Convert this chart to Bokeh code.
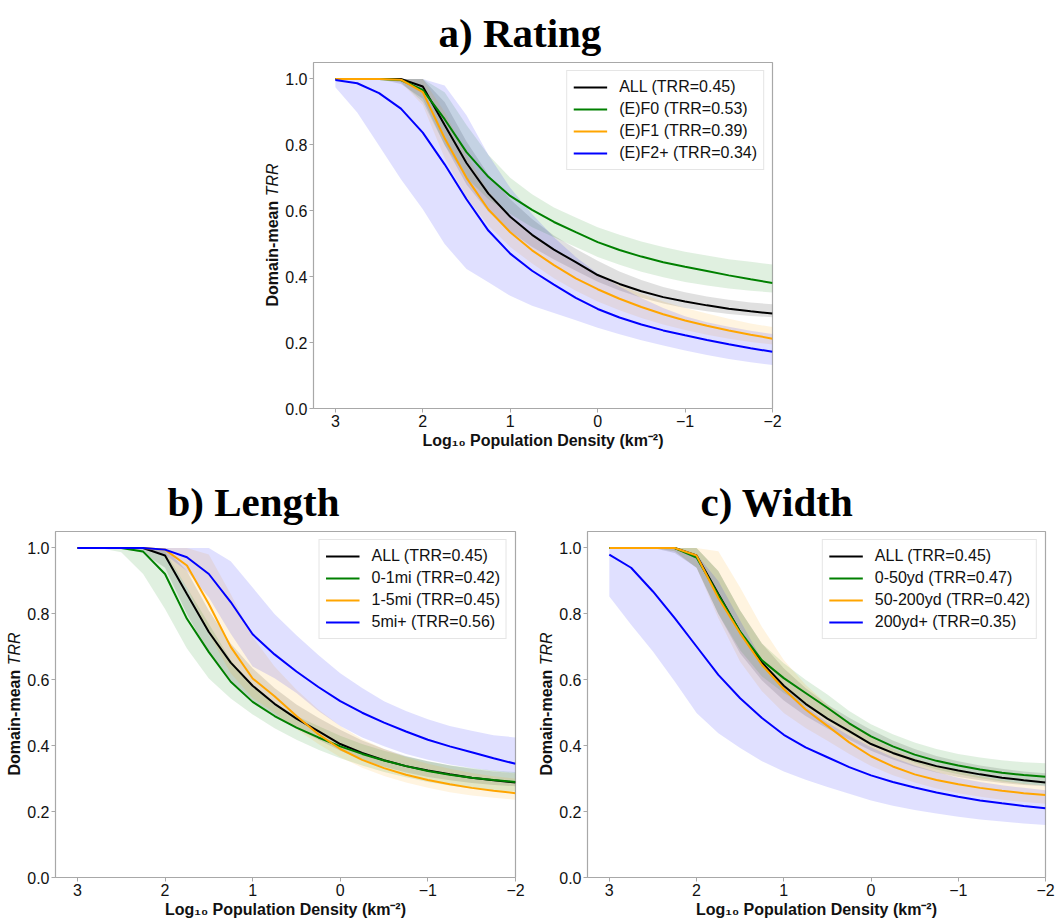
from bokeh.plotting import figure
from bokeh.models import (Range1d, FixedTicker, Legend, LegendItem, Spacer, Div,
                          PrintfTickFormatter)
from bokeh.layouts import column, row
from bokeh.embed import file_html
from bokeh.resources import INLINE

# ---------------- data ----------------
log_density = [3.0, 2.75, 2.5, 2.25, 2.0, 1.75, 1.5, 1.25, 1.0, 0.75, 0.5, 0.25,
               0.0, -0.25, -0.5, -0.75, -1.0, -1.25, -1.5, -1.75, -2.0]
x_ticks = [3, 2, 1, 0, -1, -2]
y_ticks = [0.0, 0.2, 0.4, 0.6, 0.8, 1.0]

all_mean = [1.0, 1.0, 1.0, 1.0, 0.977, 0.86, 0.745, 0.652, 0.582, 0.527, 0.482, 0.444, 0.405, 0.378, 0.356, 0.338, 0.325, 0.313, 0.303, 0.295, 0.288]
all_lo = [1.0, 1.0, 1.0, 0.985, 0.94, 0.80, 0.68, 0.598, 0.537, 0.49, 0.452, 0.418, 0.385, 0.358, 0.336, 0.319, 0.305, 0.295, 0.287, 0.281, 0.277]
all_hi = [1.0, 1.0, 1.0, 1.0, 1.0, 0.93, 0.81, 0.71, 0.635, 0.575, 0.525, 0.485, 0.448, 0.416, 0.39, 0.369, 0.353, 0.34, 0.33, 0.322, 0.316]

# a) Rating
f0_mean = [1.0, 1.0, 1.0, 0.997, 0.967, 0.878, 0.778, 0.703, 0.645, 0.603, 0.566, 0.535, 0.505, 0.481, 0.461, 0.444, 0.43, 0.417, 0.404, 0.392, 0.381]
f0_lo = [1.0, 1.0, 1.0, 0.99, 0.93, 0.80, 0.70, 0.635, 0.59, 0.55, 0.52, 0.49, 0.46, 0.436, 0.415, 0.398, 0.384, 0.373, 0.364, 0.357, 0.352]
f0_hi = [1.0, 1.0, 1.0, 1.0, 1.0, 0.96, 0.86, 0.77, 0.70, 0.65, 0.61, 0.58, 0.55, 0.527, 0.507, 0.49, 0.476, 0.464, 0.453, 0.445, 0.437]
f1_mean = [1.0, 1.0, 1.0, 0.998, 0.96, 0.82, 0.70, 0.604, 0.535, 0.48, 0.435, 0.395, 0.362, 0.333, 0.308, 0.286, 0.267, 0.251, 0.237, 0.224, 0.212]
f1_lo = [1.0, 1.0, 1.0, 0.99, 0.92, 0.76, 0.64, 0.555, 0.49, 0.44, 0.395, 0.357, 0.325, 0.298, 0.275, 0.255, 0.238, 0.224, 0.212, 0.202, 0.194]
f1_hi = [1.0, 1.0, 1.0, 1.0, 1.0, 0.90, 0.77, 0.66, 0.585, 0.525, 0.478, 0.44, 0.405, 0.374, 0.348, 0.325, 0.305, 0.288, 0.272, 0.258, 0.247]
f2_mean = [0.997, 0.987, 0.957, 0.91, 0.837, 0.741, 0.635, 0.54, 0.47, 0.418, 0.376, 0.336, 0.302, 0.276, 0.255, 0.237, 0.222, 0.208, 0.195, 0.183, 0.172]
f2_lo = [0.975, 0.898, 0.797, 0.696, 0.605, 0.499, 0.423, 0.383, 0.342, 0.312, 0.29, 0.268, 0.245, 0.225, 0.207, 0.191, 0.176, 0.162, 0.15, 0.14, 0.132]
f2_hi = [1.0, 1.0, 1.0, 1.0, 1.0, 0.98, 0.89, 0.77, 0.67, 0.59, 0.52, 0.46, 0.41, 0.37, 0.335, 0.305, 0.28, 0.262, 0.248, 0.236, 0.226]

# b) Length
m01_mean = [1.0, 1.0, 1.0, 0.989, 0.921, 0.785, 0.684, 0.594, 0.533, 0.49, 0.455, 0.425, 0.398, 0.375, 0.355, 0.338, 0.323, 0.312, 0.303, 0.296, 0.29]
m01_lo = [1.0, 1.0, 0.987, 0.921, 0.815, 0.695, 0.604, 0.543, 0.495, 0.453, 0.418, 0.388, 0.362, 0.34, 0.32, 0.304, 0.29, 0.279, 0.27, 0.264, 0.26]
m01_hi = [1.0, 1.0, 1.0, 1.0, 0.99, 0.88, 0.77, 0.66, 0.58, 0.53, 0.49, 0.46, 0.43, 0.405, 0.385, 0.367, 0.353, 0.341, 0.332, 0.325, 0.32]
m15_mean = [1.0, 1.0, 1.0, 1.0, 0.995, 0.947, 0.83, 0.70, 0.604, 0.55, 0.49, 0.435, 0.39, 0.357, 0.332, 0.312, 0.296, 0.283, 0.272, 0.263, 0.256]
m15_lo = [1.0, 1.0, 1.0, 1.0, 0.98, 0.88, 0.74, 0.62, 0.545, 0.5, 0.45, 0.405, 0.365, 0.333, 0.308, 0.288, 0.272, 0.259, 0.249, 0.242, 0.236]
m15_hi = [1.0, 1.0, 1.0, 1.0, 1.0, 1.0, 0.98, 0.86, 0.73, 0.64, 0.57, 0.51, 0.46, 0.42, 0.39, 0.365, 0.345, 0.33, 0.317, 0.307, 0.3]
m5_mean = [1.0, 1.0, 1.0, 1.0, 0.995, 0.972, 0.921, 0.836, 0.738, 0.677, 0.625, 0.578, 0.535, 0.5, 0.47, 0.443, 0.418, 0.398, 0.38, 0.362, 0.345]
m5_lo = [1.0, 1.0, 1.0, 0.995, 0.98, 0.93, 0.85, 0.74, 0.64, 0.605, 0.56, 0.505, 0.46, 0.425, 0.398, 0.375, 0.357, 0.343, 0.332, 0.323, 0.316]
m5_hi = [1.0, 1.0, 1.0, 1.0, 1.0, 1.0, 1.0, 0.96, 0.88, 0.80, 0.735, 0.675, 0.62, 0.575, 0.535, 0.505, 0.48, 0.46, 0.445, 0.432, 0.425]

# c) Width
w50_mean = [1.0, 1.0, 1.0, 1.0, 0.971, 0.857, 0.746, 0.659, 0.605, 0.56, 0.515, 0.468, 0.428, 0.398, 0.373, 0.354, 0.34, 0.328, 0.318, 0.311, 0.306]
w50_lo = [1.0, 1.0, 1.0, 0.99, 0.94, 0.80, 0.69, 0.61, 0.56, 0.52, 0.478, 0.438, 0.403, 0.373, 0.348, 0.328, 0.313, 0.301, 0.291, 0.284, 0.279]
w50_hi = [1.0, 1.0, 1.0, 1.0, 1.0, 0.93, 0.81, 0.71, 0.65, 0.60, 0.555, 0.505, 0.465, 0.435, 0.41, 0.39, 0.375, 0.364, 0.356, 0.35, 0.347]
w200_mean = [1.0, 1.0, 1.0, 1.0, 0.977, 0.848, 0.741, 0.645, 0.572, 0.51, 0.46, 0.41, 0.368, 0.337, 0.313, 0.296, 0.283, 0.272, 0.263, 0.256, 0.25]
w200_lo = [1.0, 1.0, 1.0, 0.99, 0.94, 0.787, 0.655, 0.565, 0.499, 0.454, 0.415, 0.375, 0.338, 0.31, 0.288, 0.27, 0.256, 0.245, 0.236, 0.229, 0.224]
w200_hi = [1.0, 1.0, 1.0, 1.0, 1.0, 0.99, 0.88, 0.76, 0.66, 0.585, 0.525, 0.47, 0.425, 0.39, 0.362, 0.34, 0.322, 0.307, 0.295, 0.285, 0.278]
w200p_mean = [0.98, 0.94, 0.868, 0.787, 0.701, 0.615, 0.544, 0.484, 0.433, 0.395, 0.365, 0.335, 0.31, 0.29, 0.273, 0.258, 0.245, 0.234, 0.225, 0.217, 0.21]
w200p_lo = [0.853, 0.767, 0.686, 0.595, 0.499, 0.438, 0.393, 0.353, 0.322, 0.297, 0.275, 0.254, 0.234, 0.218, 0.205, 0.194, 0.184, 0.176, 0.17, 0.164, 0.159]
w200p_hi = [1.0, 1.0, 1.0, 1.0, 0.98, 0.9, 0.78, 0.66, 0.58, 0.52, 0.47, 0.43, 0.395, 0.365, 0.34, 0.32, 0.303, 0.29, 0.28, 0.272, 0.265]

rating_labels = ["ALL (TRR=0.45)", "(E)F0 (TRR=0.53)", "(E)F1 (TRR=0.39)", "(E)F2+ (TRR=0.34)"]
length_labels = ["ALL (TRR=0.45)", "0-1mi (TRR=0.42)", "1-5mi (TRR=0.45)", "5mi+ (TRR=0.56)"]
width_labels = ["ALL (TRR=0.45)", "0-50yd (TRR=0.47)", "50-200yd (TRR=0.42)", "200yd+ (TRR=0.35)"]

colors = ["black", "green", "orange", "blue"]

SANS = "Liberation Sans"
FRAME_H = 346
X0, X1, Y0, Y1 = 3.25, -2.0, 0.0, 1.05
LABEL_W = 24


def ylabel_div(top, total_h):
    cy = top + FRAME_H / 2
    html = ('<div style="position:absolute; left:15px; top:%dpx; '
            'transform:translate(-50%%,-50%%) rotate(-90deg); white-space:nowrap; '
            "font-family:'Liberation Sans', Arial, sans-serif; font-size:16px; "
            'line-height:18px; color:#111111;">'
            '<b>Domain-mean</b> <i>TRR</i></div>') % cy
    return Div(text=html, width=LABEL_W, height=total_h, margin=0,
               styles={"position": "relative", "overflow": "visible"})


def make_panel(title, title_offset, series, labels, frame_w, left, right, top, bottom):
    p = figure(output_backend="svg", toolbar_location=None,
               frame_width=frame_w, frame_height=FRAME_H,
               min_border_left=left, min_border_right=right,
               min_border_top=top, min_border_bottom=bottom,
               x_range=Range1d(X0, X1), y_range=Range1d(Y0, Y1),
               title=title)
    p.title.text_font = "Liberation Serif"
    p.title.text_font_style = "bold"
    p.title.text_font_size = "41px"
    p.title.text_color = "black"
    p.title.align = "left"
    p.title.offset = title_offset
    p.title.standoff = 13

    p.grid.visible = False
    p.outline_line_color = "#a8a8a8"
    p.outline_line_width = 1.2
    p.background_fill_color = "white"
    p.border_fill_color = "white"

    for ax in (p.xaxis[0], p.yaxis[0]):
        ax.axis_line_color = None
        ax.major_tick_line_color = "#a8a8a8"
        ax.major_tick_out = 4
        ax.major_tick_in = 0
        ax.minor_tick_line_color = None
        ax.major_label_text_font = SANS
        ax.major_label_text_font_size = "16px"
        ax.major_label_text_color = "#111111"
        ax.major_label_standoff = 2

    p.xaxis.ticker = FixedTicker(ticks=x_ticks)
    p.xaxis.major_label_overrides = {-1: "\u22121", -2: "\u22122"}
    p.xaxis.axis_label = "Log\u2081\u2080 Population Density (km\u207b\u00b2)"
    p.xaxis.axis_label_text_font = SANS
    p.xaxis.axis_label_text_font_style = "bold"
    p.xaxis.axis_label_text_font_size = "16px"
    p.xaxis.axis_label_text_color = "#111111"
    p.xaxis.axis_label_standoff = 2

    p.yaxis.ticker = FixedTicker(ticks=y_ticks)
    p.yaxis.formatter = PrintfTickFormatter(format="%.1f")

    for (mean, lo, hi), c in zip(series, colors):
        p.varea(x=log_density, y1=lo, y2=hi, fill_color=c, fill_alpha=0.12)
    items = []
    for (mean, lo, hi), c, lab in zip(series, colors, labels):
        r = p.line(log_density, mean, line_color=c, line_width=2)
        items.append(LegendItem(label=lab, renderers=[r]))

    legend = Legend(items=items, location="top_right")
    legend.label_text_font = SANS
    legend.label_text_font_size = "16px"
    legend.label_text_color = "#111111"
    legend.glyph_width = 34
    legend.glyph_height = 20
    legend.label_height = 20
    legend.label_standoff = 12
    legend.spacing = 2
    legend.padding = 6
    legend.margin = 8
    legend.border_line_color = "#cccccc"
    legend.border_line_width = 1
    legend.background_fill_alpha = 0.85
    p.add_layout(legend)
    return p


TOP_A, BOT_A = 62, 58
TOP_B, BOT_B = 65, 42

pa = make_panel("a) Rating", 125,
                [(all_mean, all_lo, all_hi), (f0_mean, f0_lo, f0_hi),
                 (f1_mean, f1_lo, f1_hi), (f2_mean, f2_lo, f2_hi)],
                rating_labels, 459, 29, 20, TOP_A, BOT_A)
pb = make_panel("b) Length", 112,
                [(all_mean, all_lo, all_hi), (m01_mean, m01_lo, m01_hi),
                 (m15_mean, m15_lo, m15_hi), (m5_mean, m5_lo, m5_hi)],
                length_labels, 460, 29, 17, TOP_B, BOT_B)
pc = make_panel("c) Width", 113,
                [(all_mean, all_lo, all_hi), (w50_mean, w50_lo, w50_hi),
                 (w200_mean, w200_lo, w200_hi), (w200p_mean, w200p_lo, w200p_hi)],
                width_labels, 458, 30, 12, TOP_B, BOT_B)

h_a = TOP_A + FRAME_H + BOT_A
h_b = TOP_B + FRAME_H + BOT_B

layout = column(
    row(Spacer(width=258, height=10, margin=0), ylabel_div(TOP_A, h_a), pa),
    row(ylabel_div(TOP_B, h_b), pb, ylabel_div(TOP_B, h_b), pc),
)

open("out.html", "w").write(file_html(layout, INLINE))
